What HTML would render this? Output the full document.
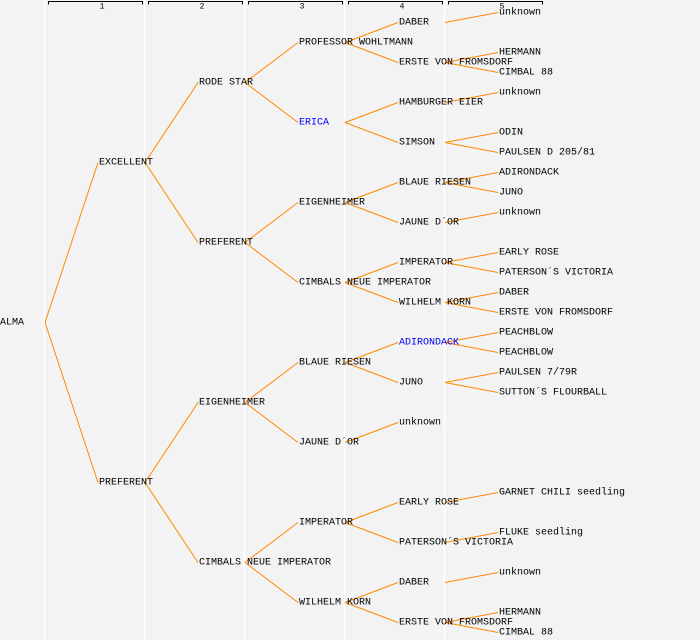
<!DOCTYPE html>
<html><head><style>
html,body{margin:0;padding:0;background:#f3f3f3;}
svg{display:block}
text{font-family:"Liberation Mono",monospace;font-size:10px;fill:#000;dominant-baseline:central}
.b{fill:#0000ff}
.n{font-size:8px;text-anchor:middle}
line.e{stroke:#ff8800;stroke-width:1}
</style></head><body>
<svg width="700" height="640" xmlns="http://www.w3.org/2000/svg">
<rect width="700" height="640" fill="#f3f3f3"/>
<g stroke="#fff" stroke-width="1.5">
<line x1="44.5" y1="0" x2="44.5" y2="640"/><line x1="144.5" y1="0" x2="144.5" y2="640"/><line x1="244.5" y1="0" x2="244.5" y2="640"/><line x1="344.5" y1="0" x2="344.5" y2="640"/><line x1="444.5" y1="0" x2="444.5" y2="640"/>
</g>
<g stroke="#000" fill="none" stroke-width="1">
<path d="M48.5,4.5V1.5H142.5V4.5"/><path d="M148.5,4.5V1.5H242.5V4.5"/><path d="M248.5,4.5V1.5H342.5V4.5"/><path d="M348.5,4.5V1.5H442.5V4.5"/><path d="M448.5,4.5V1.5H542.5V4.5"/>
</g>
<text class="n" x="102" y="7">1</text><text class="n" x="202" y="7">2</text><text class="n" x="302" y="7">3</text><text class="n" x="402" y="7">4</text><text class="n" x="502" y="7">5</text>
<g id="edges"></g>
<g id="texts"></g>
</svg>
<script>
var E=[[45,322,99,162],[45,322,99,482],
[145,162,199,82],[145,162,199,242],[145,482,199,402],[145,482,199,562],
[245,82,299,42],[245,82,299,122],[245,242,299,202],[245,242,299,282],[245,402,299,362],[245,402,299,442],[245,562,299,522],[245,562,299,602],
[345,42,399,22],[345,42,399,62],[345,122,399,102],[345,122,399,142],[345,202,399,182],[345,202,399,222],[345,282,399,262],[345,282,399,302],[345,362,399,342],[345,362,399,382],[345,442,399,422],[345,522,399,502],[345,522,399,542],[345,602,399,582],[345,602,399,622],
[445,22,499,12],[445,62,499,52],[445,62,499,72],[445,102,499,92],[445,142,499,132],[445,142,499,152],[445,182,499,172],[445,182,499,192],[445,222,499,212],[445,262,499,252],[445,262,499,272],[445,302,499,292],[445,302,499,312],[445,342,499,332],[445,342,499,352],[445,382,499,372],[445,382,499,392],[445,502,499,492],[445,542,499,532],[445,582,499,572],[445,622,499,612],[445,622,499,632]];
var T=[[0,322,"ALMA"],[99,162,"EXCELLENT"],[99,482,"PREFERENT"],
[199,82,"RODE STAR"],[199,242,"PREFERENT"],[199,402,"EIGENHEIMER"],[199,562,"CIMBALS NEUE IMPERATOR"],
[299,42,"PROFESSOR WOHLTMANN"],[299,122,"ERICA",1],[299,202,"EIGENHEIMER"],[299,282,"CIMBALS NEUE IMPERATOR"],[299,362,"BLAUE RIESEN"],[299,442,"JAUNE D´OR"],[299,522,"IMPERATOR"],[299,602,"WILHELM KORN"],
[399,22,"DABER"],[399,62,"ERSTE VON FROMSDORF"],[399,102,"HAMBURGER EIER"],[399,142,"SIMSON"],[399,182,"BLAUE RIESEN"],[399,222,"JAUNE D´OR"],[399,262,"IMPERATOR"],[399,302,"WILHELM KORN"],[399,342,"ADIRONDACK",1],[399,382,"JUNO"],[399,422,"unknown"],[399,502,"EARLY ROSE"],[399,542,"PATERSON´S VICTORIA"],[399,582,"DABER"],[399,622,"ERSTE VON FROMSDORF"],
[499,12,"unknown"],[499,52,"HERMANN"],[499,72,"CIMBAL 88"],[499,92,"unknown"],[499,132,"ODIN"],[499,152,"PAULSEN D 205/81"],[499,172,"ADIRONDACK"],[499,192,"JUNO"],[499,212,"unknown"],[499,252,"EARLY ROSE"],[499,272,"PATERSON´S VICTORIA"],[499,292,"DABER"],[499,312,"ERSTE VON FROMSDORF"],[499,332,"PEACHBLOW"],[499,352,"PEACHBLOW"],[499,372,"PAULSEN 7/79R"],[499,392,"SUTTON´S FLOURBALL"],[499,492,"GARNET CHILI seedling"],[499,532,"FLUKE seedling"],[499,572,"unknown"],[499,612,"HERMANN"],[499,632,"CIMBAL 88"]];
var ns="http://www.w3.org/2000/svg",g=document.getElementById("edges"),t=document.getElementById("texts");
E.forEach(function(e){var l=document.createElementNS(ns,"line");l.setAttribute("class","e");l.setAttribute("x1",e[0]);l.setAttribute("y1",e[1]+0.5);l.setAttribute("x2",e[2]-1);l.setAttribute("y2",e[3]+0.5);g.appendChild(l);});
T.forEach(function(e){var x=document.createElementNS(ns,"text");x.setAttribute("x",e[0]);x.setAttribute("y",e[1]+1);if(e[3])x.setAttribute("class","b");x.textContent=e[2];t.appendChild(x);});
</script>
</body></html>
